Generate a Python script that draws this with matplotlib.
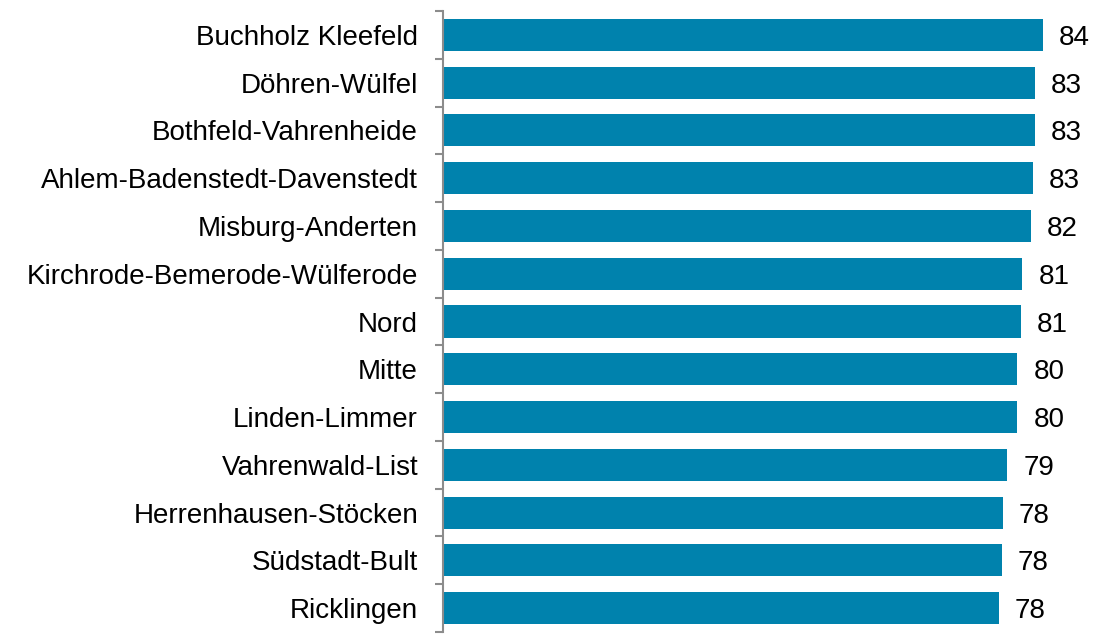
import matplotlib
matplotlib.use('Agg')
import matplotlib.pyplot as plt

# Stadtbezirke (top to bottom) and values
districts = [
    'Buchholz Kleefeld', 'Döhren-Wülfel', 'Bothfeld-Vahrenheide',
    'Ahlem-Badenstedt-Davenstedt', 'Misburg-Anderten',
    'Kirchrode-Bemerode-Wülferode', 'Nord', 'Mitte', 'Linden-Limmer',
    'Vahrenwald-List', 'Herrenhausen-Stöcken', 'Südstadt-Bult', 'Ricklingen',
]
values = [84.0, 82.9, 82.8, 82.6, 82.3, 81.1, 80.9, 80.4, 80.4, 79.0, 78.4, 78.2, 77.8]

BAR_COLOR = '#0082AD'
AXIS_COLOR = '#8C8C8C'

fig = plt.figure(figsize=(11.05, 6.35), dpi=100)
ax = fig.add_axes([443 / 1105, 1 - 632 / 635, (1086 - 443) / 1105, 621 / 635])

pos = list(range(len(districts)))
bars = ax.barh(pos, values, height=0.67, color=BAR_COLOR)

ax.set_ylim(len(districts) - 0.5, -0.5)
ax.set_xlim(0, 90)

ax.set_yticks(pos)
ax.set_yticklabels(districts, fontsize=20, family=['Liberation Sans', 'DejaVu Sans'])
ax.set_yticks([p + 0.5 for p in range(-1, len(districts))], minor=True)
ax.tick_params(axis='y', which='major', length=0, pad=18)
ax.tick_params(axis='y', which='minor', length=6, width=1.5, color=AXIS_COLOR, direction='out')
ax.set_xticks([])

for side in ['top', 'right', 'bottom']:
    ax.spines[side].set_visible(False)
ax.spines['left'].set_color(AXIS_COLOR)
ax.spines['left'].set_linewidth(1.5)

# value labels next to the bars
for bar, val in zip(bars, values):
    ax.annotate(f'{val:.0f}', xy=(bar.get_width(), bar.get_y() + bar.get_height() / 2),
                xytext=(11.5, 0), textcoords='offset points', ha='left', va='center_baseline',
                fontsize=20, family=['Liberation Sans', 'DejaVu Sans'])

fig.savefig('out.png', dpi=100)
